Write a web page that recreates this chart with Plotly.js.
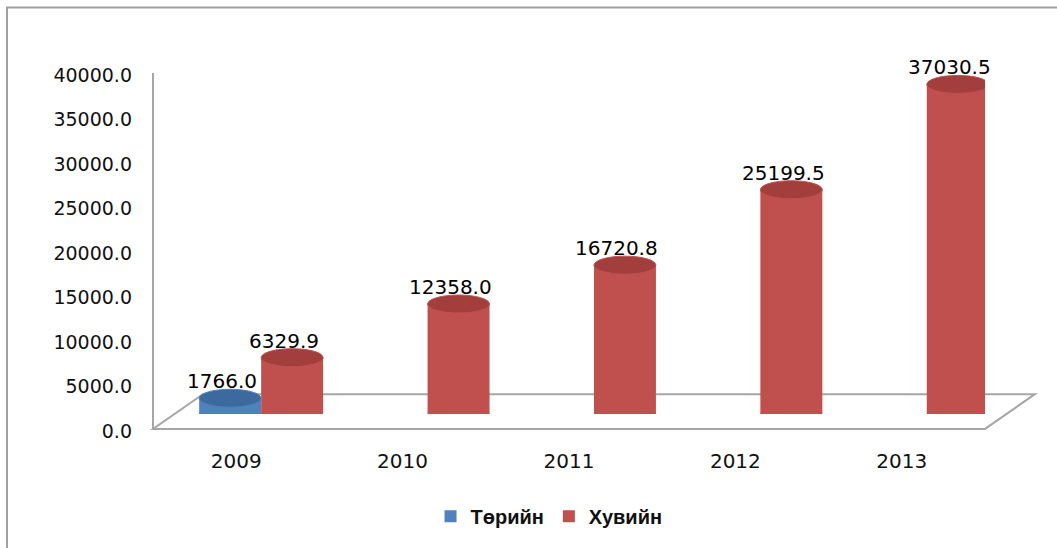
<!DOCTYPE html>
<html>
<head>
<meta charset="utf-8">
<script src="https://cdn.plot.ly/plotly-3.0.1.min.js"></script>
<style>html,body{margin:0;padding:0;background:#fff;}#chart{width:1057px;height:548px;}</style>
</head>
<body>
<div id="chart"></div>
<script>
const years = ['2009', '2010', '2011', '2012', '2013'];
const seriesNames = ['Төрийн', 'Хувийн'];
const publicValues = [1766.0, null, null, null, null];
const privateValues = [6329.9, 12358.0, 16720.8, 25199.5, 37030.5];
const yTickValues = [0, 5000, 10000, 15000, 20000, 25000, 30000, 35000, 40000];
const yTickLabels = ['0.0', '5000.0', '10000.0', '15000.0', '20000.0', '25000.0', '30000.0', '35000.0', '40000.0'];

const BLUE = '#4F81BD', RED = '#C0504D';
const BLUE_TOP = '#3D6A9E', RED_TOP = '#A23E3B';
const GAP = 0.255;
const HALF = (1 - GAP) / 2;           // bar width in category units
const offsets = [-HALF / 2, HALF / 2];  // centre offsets for each series

const traces = [
  {type: 'bar', name: seriesNames[0], x: years, y: publicValues, marker: {color: BLUE}, hoverinfo: 'x+y'},
  {type: 'bar', name: seriesNames[1], x: years, y: privateValues, marker: {color: RED}, hoverinfo: 'x+y'}
];

const shapes = [];
// frame
shapes.push({type: 'rect', xref: 'paper', yref: 'paper', x0: -0.1755, x1: 1.2, y0: -0.5, y1: 1.142,
  line: {color: '#A0A0A0', width: 2}, fillcolor: 'rgba(0,0,0,0)', layer: 'below'});
// floor
shapes.push({type: 'path', xref: 'paper', yref: 'paper',
  path: 'M 0,-0.0418 L 1,-0.0418 L 1.06,0.0557 L 0.06,0.0557 Z',
  line: {color: '#A6A6A6', width: 2}, fillcolor: '#FFFFFF', layer: 'below'});
// y axis line
shapes.push({type: 'line', xref: 'paper', yref: 'paper', x0: 0, x1: 0, y0: -0.0418, y1: 0.958,
  line: {color: '#A6A6A6', width: 2}, layer: 'below'});

const allSeries = [publicValues, privateValues];
const baseColors = [BLUE, RED];
const topColors = [BLUE_TOP, RED_TOP];
const annotations = [];
allSeries.forEach((vals, s) => {
  vals.forEach((v, i) => {
    if (v === null) return;
    const cx = i + offsets[s];
    // bottom ellipse
    shapes.push({type: 'circle', xref: 'x', yref: 'y', ysizemode: 'pixel', yanchor: 0,
      x0: cx - HALF / 2, x1: cx + HALF / 2, y0: -10, y1: 10,
      fillcolor: baseColors[s], line: {width: 0}, layer: 'below'});
    // top ellipse
    shapes.push({type: 'circle', xref: 'x', yref: 'y', ysizemode: 'pixel', yanchor: v,
      x0: cx - HALF / 2, x1: cx + HALF / 2, y0: -9, y1: 9,
      fillcolor: topColors[s], line: {color: baseColors[s], width: 1}, layer: 'above'});
    annotations.push({xref: 'x', yref: 'y', x: cx, y: v, text: v.toFixed(1), showarrow: false,
      xshift: -8, yshift: 17, font: {family: 'DejaVu Sans', size: 20, color: '#000000'}});
  });
});

const layout = {
  width: 1057, height: 548,
  margin: {l: 153, r: 72, t: 58, b: 131},
  paper_bgcolor: '#FFFFFF', plot_bgcolor: 'rgba(0,0,0,0)',
  barmode: 'group', bargap: GAP, bargroupgap: 0,
  showlegend: true,
  legend: {orientation: 'h', x: 0.476, xanchor: 'center', y: -0.287, yanchor: 'middle',
    font: {family: 'Liberation Sans', size: 20, color: '#111111', weight: 'bold'}, itemsizing: 'constant'},
  xaxis: {type: 'category', range: [-0.65, 4.35], showgrid: false, zeroline: false, showline: false,
    ticks: '', ticklabelshift: -25, ticklabelstandoff: 33,
    tickfont: {family: 'DejaVu Sans', size: 20, color: '#111111'}, fixedrange: true},
  yaxis: {range: [0, 40000], tickvals: yTickValues, ticktext: yTickLabels, showgrid: false,
    zeroline: false, showline: false, ticks: '', ticklabelshift: 17, ticklabelstandoff: 20,
    tickfont: {family: 'DejaVu Sans', size: 19, color: '#111111'}, fixedrange: true},
  shapes: shapes,
  annotations: annotations
};

Plotly.newPlot('chart', traces, layout, {displayModeBar: false, staticPlot: true});
</script>
</body>
</html>
